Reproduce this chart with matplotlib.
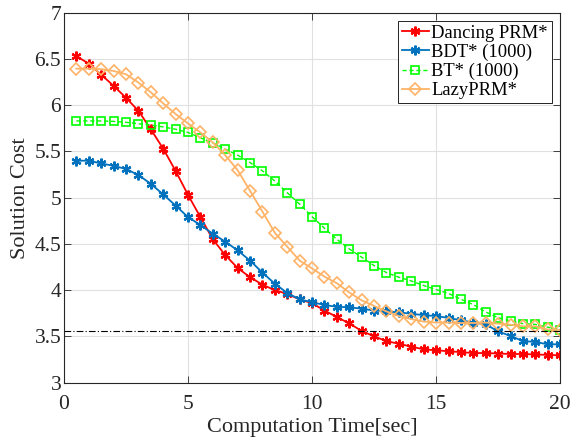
import numpy as np
import matplotlib
matplotlib.use("Agg")
import matplotlib.pyplot as plt

plt.rcParams['font.family'] = ['Liberation Serif', 'DejaVu Serif']
plt.rcParams['mathtext.fontset'] = 'stix'

# temps de calcul (s)
t = np.arange(1, 41) * 0.5

dancing_prm = [6.53, 6.45, 6.33, 6.21, 6.08, 5.94, 5.74, 5.53, 5.29, 5.03,
               4.79, 4.55, 4.38, 4.24, 4.14, 4.06, 4.00, 3.96, 3.90, 3.86,
               3.78, 3.71, 3.64, 3.56, 3.50, 3.45, 3.42, 3.39, 3.36, 3.35,
               3.34, 3.33, 3.32, 3.32, 3.315, 3.31, 3.31, 3.305, 3.30, 3.295]
bdt = [5.40, 5.40, 5.37, 5.345, 5.31, 5.245, 5.15, 5.035, 4.915, 4.79,
       4.705, 4.61, 4.525, 4.43, 4.32, 4.19, 4.07, 3.97, 3.90, 3.87,
       3.84, 3.82, 3.815, 3.80, 3.78, 3.77, 3.76, 3.745, 3.73, 3.72,
       3.70, 3.675, 3.65, 3.63, 3.555, 3.505, 3.45, 3.44, 3.415, 3.415]
bt = [5.83, 5.83, 5.83, 5.825, 5.815, 5.80, 5.785, 5.765, 5.74, 5.705,
      5.647, 5.593, 5.525, 5.46, 5.38, 5.29, 5.18, 5.054, 4.93, 4.795,
      4.67, 4.55, 4.446, 4.356, 4.266, 4.19, 4.14, 4.10, 4.05, 4.007,
      3.964, 3.902, 3.844, 3.764, 3.703, 3.667, 3.638, 3.63, 3.60, 3.572]
lazy_prm = [6.395, 6.395, 6.39, 6.37, 6.335, 6.245, 6.14, 6.02, 5.905, 5.803,
            5.705, 5.597, 5.46, 5.298, 5.075, 4.85, 4.62, 4.47, 4.32, 4.235,
            4.147, 4.075, 3.975, 3.89, 3.83, 3.77, 3.72, 3.687, 3.66, 3.65,
            3.65, 3.645, 3.645, 3.65, 3.638, 3.627, 3.61, 3.609, 3.575, 3.57]
reference_cost = 3.56

fig = plt.figure(figsize=(5.71, 4.46), dpi=100)
ax = fig.add_axes([0.112, 0.142, 0.869, 0.8295])

asterisk = (6, 2, 0)
ax.plot(t, dancing_prm, color=(1, 0, 0), marker=asterisk, ms=7, mew=1.6,
        lw=1.3, label='Dancing PRM*')
ax.plot(t, bdt, color=(0, 0.447, 0.741), marker=asterisk, ms=7, mew=1.6,
        lw=1.3, label='BDT* (1000)')
ax.plot(t, bt, color=(0, 1, 0), marker='s', ms=5.5, mew=1.2, mfc='none',
        ls=(0, (3, 2)), lw=1.0, label='BT* (1000)')
ax.plot(t, lazy_prm, color=(1, 0.7, 0.4), marker='D', ms=6, mew=1.2,
        mfc='none', lw=1.3, label='LazyPRM*')
ax.axhline(reference_cost, color='k', lw=0.8, ls=(0, (6, 2, 1, 2)))

ax.set_xlim(0, 20)
ax.set_ylim(3, 7)
ax.set_xticks([0, 5, 10, 15, 20])
ax.set_yticks(np.arange(3, 7.01, 0.5))
ax.set_yticklabels(['3', '3.5', '4', '4.5', '5', '5.5', '6', '6.5', '7'])
ax.grid(True, color=(0.88, 0.88, 0.88), lw=0.8)
ax.set_axisbelow(True)
ax.tick_params(direction='in', top=True, right=True, labelsize=15.5,
               length=5, width=0.6, colors=(0.15, 0.15, 0.15))
ax.tick_params(axis='x', pad=9)
ax.tick_params(axis='y', pad=2)
for s in ax.spines.values():
    s.set_linewidth(0.8)
    s.set_color((0.15, 0.15, 0.15))

ax.set_xlabel('Computation Time[sec]', fontsize=16, color=(0.15, 0.15, 0.15), labelpad=3)
ax.set_ylabel('Solution Cost', fontsize=16, color=(0.15, 0.15, 0.15), labelpad=3)

leg = ax.legend(loc='upper right', fontsize=13.4, fancybox=False, framealpha=1,
                edgecolor='k', borderpad=0.2, labelspacing=0.1,
                handlelength=1.45, handletextpad=0.15, borderaxespad=0.45)
leg.get_frame().set_linewidth(0.6)

plt.savefig('out.png', dpi=100)
